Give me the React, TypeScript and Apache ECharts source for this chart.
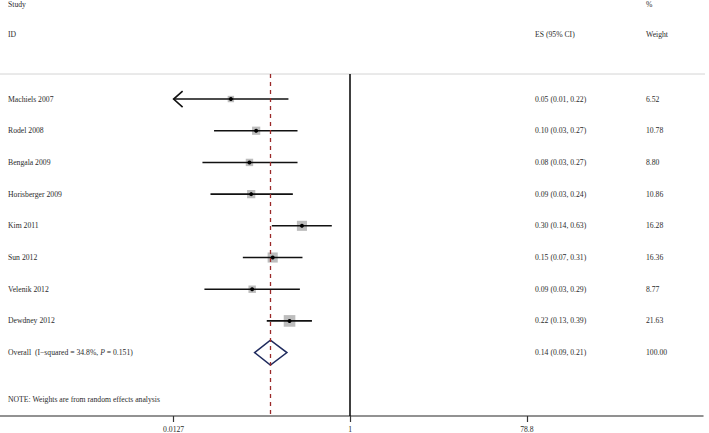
import React, { useEffect, useRef } from "react";
import * as echarts from "echarts";

const studies = [
  "Machiels 2007",
  "Rodel 2008",
  "Bengala 2009",
  "Horisberger 2009",
  "Kim 2011",
  "Sun 2012",
  "Velenik 2012",
  "Dewdney 2012",
];
const esValues = [0.0523, 0.0977, 0.0828, 0.0864, 0.303, 0.147, 0.0885, 0.223];
const ciLow = [0.01, 0.0345, 0.0259, 0.0316, 0.144, 0.0703, 0.0272, 0.127];
const ciHigh = [0.217, 0.2716, 0.2716, 0.242, 0.634, 0.307, 0.288, 0.388];
const weights = [6.52, 10.78, 8.8, 10.86, 16.28, 16.36, 8.77, 21.63];

const overallLabel = "Overall  (I\u2212squared = 34.8%, {i|P} = 0.151)";
const overallEs = 0.139;
const overallLow = 0.094;
const overallHigh = 0.209;
const overallWeight = 100.0;

const tickValues = [0.0127, 1, 78.8];
const tickLabels = ["0.0127", "1", "78.8"];

const FONT = "'Liberation Serif', 'Times New Roman', serif";
const FS = 7.7;
const TXT = "#2b2b2b";

// axis range in log10 units (display range of the plot)
const X_MIN = -3.76;
const X_MAX = 3.787;
const Y_MIN = -0.79;
const Y_MAX = 10.0;

const lg = (v: number) => Math.log10(v);

export default function App() {
  const ref = useRef<HTMLDivElement>(null);
  useEffect(() => {
    if (!ref.current) return;
    const chart = echarts.init(ref.current, null, { renderer: "svg" });
    const clipMin = tickValues[0];

    const rows = studies.map((s, i) => [esValues[i], ciLow[i], ciHigh[i], weights[i], i]);

    const txt = (x: number, y: number, text: string, extra: any = {}) => ({
      type: "text",
      x,
      y,
      style: {
        text,
        fill: TXT,
        fontSize: FS,
        fontFamily: FONT,
        verticalAlign: "middle",
        align: "left",
        ...extra,
      },
    });

    const option: any = {
      animation: false,
      backgroundColor: "#ffffff",
      grid: { left: 0, right: 6, top: 74, bottom: 17 },
      xAxis: {
        type: "value",
        min: X_MIN,
        max: X_MAX,
        splitLine: { show: false },
        axisLine: { show: true, onZero: false, lineStyle: { color: "#6e6e6e", width: 1.5 } },
        axisTick: {
          show: true,
          length: 6,
          customValues: tickValues.map(lg),
          lineStyle: { color: "#333", width: 1.2 },
        },
        axisLabel: {
          show: true,
          customValues: tickValues.map(lg),
          margin: 9,
          fontSize: FS,
          fontFamily: FONT,
          color: TXT,
          formatter: (v: number) => {
            let best = 0;
            tickValues.forEach((t, k) => {
              if (Math.abs(lg(t) - v) < Math.abs(lg(tickValues[best]) - v)) best = k;
            });
            return tickLabels[best];
          },
        },
      },
      yAxis: {
        type: "value",
        inverse: true,
        min: Y_MIN,
        max: Y_MAX,
        show: false,
      },
      graphic: [
        {
          type: "line",
          shape: { x1: 0, y1: 74, x2: 705, y2: 74 },
          style: { stroke: "#d4d4d4", lineWidth: 1 },
        },
        { type: "text", left: 8, top: 0, style: { text: "Study", fontSize: FS, fontFamily: FONT, fill: TXT } },
        { type: "text", left: 8, top: 30, style: { text: "ID", fontSize: FS, fontFamily: FONT, fill: TXT } },
        { type: "text", left: 535, top: 30, style: { text: "ES (95% CI)", fontSize: FS, fontFamily: FONT, fill: TXT } },
        { type: "text", left: 646, top: 0, style: { text: "%", fontSize: FS, fontFamily: FONT, fill: TXT } },
        { type: "text", left: 646, top: 30, style: { text: "Weight", fontSize: FS, fontFamily: FONT, fill: TXT } },
        {
          type: "text",
          left: 8,
          top: 395,
          style: { text: "NOTE: Weights are from random effects analysis", fontSize: FS, fontFamily: FONT, fill: TXT },
        },
      ],
      series: [
        {
          type: "custom",
          clip: false,
          data: rows,
          renderItem: (params: any, api: any) => {
            const es = api.value(0);
            const lo = api.value(1);
            const hi = api.value(2);
            const w = api.value(3);
            const r = api.value(4);
            const c = api.coord([lg(es), r]);
            const clipped = lo < clipMin;
            const pLo = api.coord([lg(clipped ? clipMin : lo), r]);
            const pHi = api.coord([lg(hi), r]);
            const side = 2.5 * Math.sqrt(w);
            const y = c[1];
            const children: any[] = [
              {
                type: "rect",
                shape: { x: c[0] - side / 2, y: y - side / 2, width: side, height: side },
                style: { fill: "#bdbdbd" },
              },
              {
                type: "line",
                shape: { x1: pLo[0], y1: y, x2: pHi[0], y2: y },
                style: { stroke: "#111", lineWidth: 1.6 },
              },
              { type: "circle", shape: { cx: c[0], cy: y, r: 2 }, style: { fill: "#000" } },
              txt(8, y, studies[r]),
              txt(535, y, `${es.toFixed(2)} (${lo.toFixed(2)}, ${hi.toFixed(2)})`),
              txt(646, y, w.toFixed(2)),
            ];
            if (clipped) {
              children.push({
                type: "polyline",
                shape: {
                  points: [
                    [pLo[0] + 9, y - 8],
                    [pLo[0], y],
                    [pLo[0] + 9, y + 8],
                  ],
                },
                style: { stroke: "#111", lineWidth: 1.6, fill: "none" },
              });
            }
            return { type: "group", children };
          },
          markLine: {
            silent: true,
            symbol: "none",
            label: { show: false },
            data: [
              { xAxis: 0, lineStyle: { color: "#000", type: "solid", width: 1.5 } },
              { xAxis: lg(overallEs), lineStyle: { color: "#9b2a2a", type: [4, 4], width: 1.3 } },
            ],
          },
        },
        {
          type: "custom",
          clip: false,
          data: [[overallEs, overallLow, overallHigh, overallWeight, studies.length]],
          renderItem: (params: any, api: any) => {
            const es = api.value(0);
            const lo = api.value(1);
            const hi = api.value(2);
            const w = api.value(3);
            const r = api.value(4);
            const c = api.coord([lg(es), r]);
            const l = api.coord([lg(lo), r]);
            const h = api.coord([lg(hi), r]);
            const y = c[1];
            return {
              type: "group",
              children: [
                {
                  type: "polygon",
                  shape: {
                    points: [
                      [l[0], y],
                      [c[0], y - 12.5],
                      [h[0], y],
                      [c[0], y + 12.5],
                    ],
                  },
                  style: { fill: "none", stroke: "#1f2b5e", lineWidth: 1.5 },
                },
                {
                  type: "text",
                  x: 8,
                  y,
                  style: {
                    text: overallLabel,
                    fill: TXT,
                    fontSize: FS,
                    fontFamily: FONT,
                    verticalAlign: "middle",
                    rich: { i: { fontStyle: "italic", fontSize: FS, fontFamily: FONT, fill: TXT } },
                  },
                },
                txt(535, y, `${es.toFixed(2)} (${lo.toFixed(2)}, ${hi.toFixed(2)})`),
                txt(646, y, w.toFixed(2)),
              ],
            };
          },
        },
      ],
    };
    chart.setOption(option);
    return () => chart.dispose();
  }, []);
  return (
    <div
      ref={ref}
      style={{ position: "absolute", left: 0, top: 0, width: 709, height: 433 }}
    />
  );
}
